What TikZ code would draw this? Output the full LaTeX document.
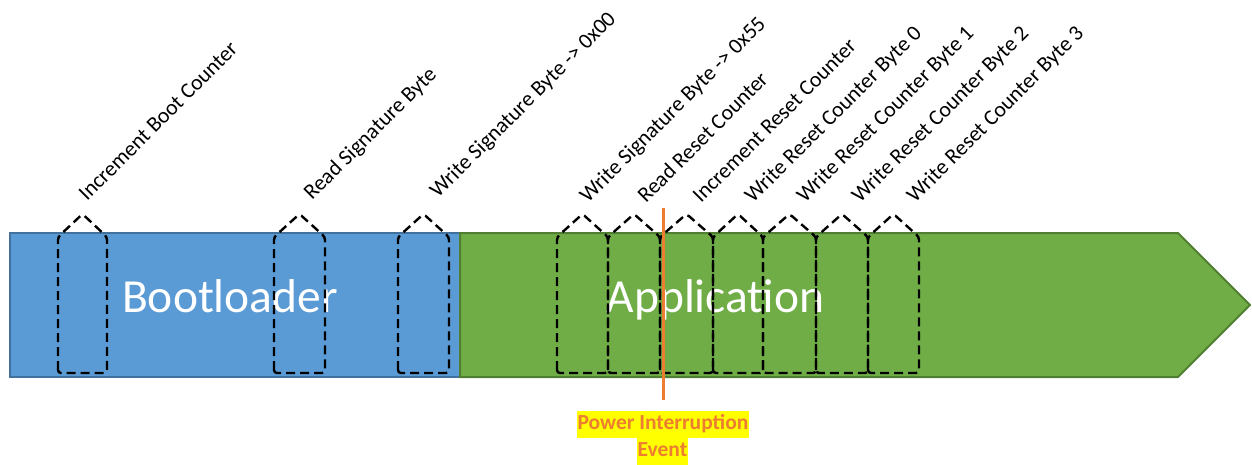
\documentclass[tikz,border=0pt]{standalone}
\usepackage{fontspec}
\setmainfont{Carlito}
\definecolor{bootblue}{HTML}{5B9BD5}
\definecolor{bootblueedge}{HTML}{41719C}
\definecolor{appgreen}{HTML}{70AD47}
\definecolor{appgreenedge}{HTML}{507E32}
\definecolor{evorange}{HTML}{ED7D31}
\definecolor{evyellow}{HTML}{FFFF00}
\begin{document}
\begin{tikzpicture}[x=1pt,y=-1pt,
  stagebar/.style={line width=2pt},
  opbox/.style={draw=black, line width=2.4pt, dash pattern=on 9pt off 5pt, rounded corners=3pt},
  oplabel/.style={rotate=45, anchor=base west, inner sep=0pt, font=\fontsize{21.8}{26}\selectfont},
  stagename/.style={text=white, anchor=base, inner sep=0pt, font=\fontsize{47.5}{56}\selectfont},
  evtext/.style={fill=evyellow, text=evorange, inner xsep=1pt, inner ysep=3.5pt,
    text height=15pt, text depth=5pt, font=\fontsize{21.5}{26}\selectfont\bfseries}]
\useasboundingbox (0,0) rectangle (1252,464);

% execution stages
\draw[stagebar, fill=bootblue, draw=bootblueedge] (10,233) rectangle (460,377);
\draw[stagebar, fill=appgreen, draw=appgreenedge]
  (460,233) -- (1178,233) -- (1250,305) -- (1178,377) -- (460,377) -- cycle;
\node[stagename] (boot) at (230,312) {Bootloader};
\node[stagename] (app) at (715.5,312) {Application};

% operation windows
\foreach \l/\w in {58/49, 274/51, 398/51, 557/51, 608/52, 660/53, 713/50, 763/53, 816/52, 868/51}{
  \draw[opbox] (\l,373) -- (\l,237) -- ({\l+\w/2},214) -- ({\l+\w},237) -- ({\l+\w},373) -- cycle;
}

% operation names
\node[oplabel] (op1) at (87,202) {Increment Boot Counter};
\node[oplabel] (op2) at (312,201) {Read Signature Byte};
\node[oplabel] (op3) at (438,199) {Write Signature Byte -> 0x00};
\node[oplabel] (op4) at (588,204) {Write Signature Byte -> 0x55};
\node[oplabel] (op5) at (646,204) {Read Reset Counter};
\node[oplabel] (op6) at (701,204) {Increment Reset Counter};
\node[oplabel] (op7) at (753,204) {Write Reset Counter Byte 0};
\node[oplabel] (op8) at (805,204) {Write Reset Counter Byte 1};
\node[oplabel] (op9) at (860,204) {Write Reset Counter Byte 2};
\node[oplabel] (op10) at (915,204) {Write Reset Counter Byte 3};

% power interruption marker
\coordinate (evtop) at (663,208);
\coordinate (evbot) at (663,400);
\draw[evorange, line width=3pt] (evtop) -- (evbot);
\node[evtext] (ev1) at (663,424.5) {Power Interruption};
\node[evtext] (ev2) at (662.5,451) {Event};
\end{tikzpicture}
\end{document}
